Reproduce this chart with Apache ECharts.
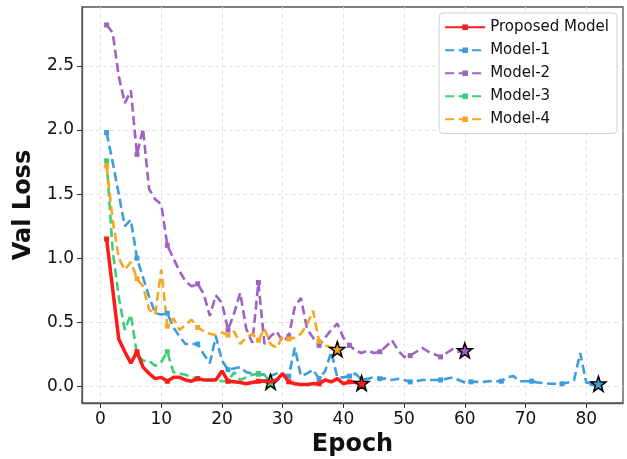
<!DOCTYPE html>
<html>
<head>
<meta charset="utf-8">
<script src="https://cdn.jsdelivr.net/npm/echarts@6/dist/echarts.min.js"></script>
<style>
  html, body { margin: 0; padding: 0; background: #fff; }
  #chart { width: 627px; height: 459px; }
</style>
</head>
<body>
<div id="chart"></div>
<script>
// validation loss per epoch (epoch = index + 1)
var proposedLoss = [1.15, 0.76, 0.37, 0.27, 0.18, 0.27, 0.15, 0.10, 0.06, 0.07,
  0.04, 0.07, 0.07, 0.05, 0.04, 0.06, 0.05, 0.05, 0.05, 0.12,
  0.04, 0.035, 0.03, 0.02, 0.03, 0.04, 0.04, 0.035, 0.05, 0.10,
  0.035, 0.02, 0.015, 0.015, 0.02, 0.02, 0.05, 0.035, 0.06, 0.02,
  0.035, 0.03, 0.025];
var model1Loss = [1.98, 1.75, 1.50, 1.25, 1.30, 1.00, 0.85, 0.70, 0.57, 0.56,
  0.57, 0.46, 0.39, 0.33, 0.33, 0.33, 0.25, 0.18, 0.39, 0.20,
  0.13, 0.14, 0.15, 0.11, 0.10, 0.095, 0.09, 0.08, 0.10, 0.09,
  0.08, 0.30, 0.08, 0.10, 0.13, 0.06, 0.12, 0.27, 0.07, 0.07,
  0.08, 0.10, 0.05, 0.06, 0.07, 0.06, 0.06, 0.05, 0.06, 0.05,
  0.035, 0.04, 0.05, 0.05, 0.05, 0.05, 0.06, 0.07, 0.05, 0.03,
  0.035, 0.035, 0.035, 0.04, 0.04, 0.04, 0.07, 0.08, 0.04, 0.04,
  0.04, 0.03, 0.025, 0.02, 0.02, 0.02, 0.03, 0.05, 0.26, 0.03,
  0.02, 0.02];
var model2Loss = [2.82, 2.76, 2.42, 2.21, 2.31, 1.81, 2.01, 1.54, 1.46, 1.42,
  1.10, 1.00, 0.90, 0.82, 0.78, 0.80, 0.72, 0.55, 0.71, 0.65,
  0.44, 0.57, 0.73, 0.45, 0.34, 0.81, 0.33, 0.39, 0.43, 0.35,
  0.39, 0.62, 0.69, 0.45, 0.38, 0.32, 0.38, 0.44, 0.49, 0.38,
  0.32, 0.28, 0.26, 0.28, 0.26, 0.27, 0.31, 0.36, 0.28, 0.23,
  0.24, 0.27, 0.30, 0.27, 0.25, 0.23, 0.26, 0.29, 0.27, 0.28];
var model3Loss = [1.76, 1.06, 0.70, 0.44, 0.56, 0.25, 0.20, 0.20, 0.16, 0.19,
  0.27, 0.11, 0.10, 0.09, 0.07, 0.06, 0.05, 0.05, 0.05, 0.04,
  0.04, 0.11, 0.05, 0.07, 0.09, 0.10, 0.09, 0.035];
var model4Loss = [1.72, 1.30, 1.00, 0.91, 0.97, 0.84, 0.78, 0.60, 0.56, 0.91,
  0.47, 0.53, 0.44, 0.48, 0.52, 0.46, 0.43, 0.41, 0.40, 0.42,
  0.40, 0.43, 0.33, 0.38, 0.41, 0.36, 0.45, 0.33, 0.30, 0.39,
  0.37, 0.38, 0.41, 0.48, 0.59, 0.35, 0.32, 0.30, 0.29];

var seriesNames = ['Proposed Model', 'Model-1', 'Model-2', 'Model-3', 'Model-4'];
var seriesColors = ['#ff1a1a', '#3b9ddd', '#a062c0', '#3ccf77', '#f5a623'];
var xTicks = [0, 10, 20, 30, 40, 50, 60, 70, 80];
var yTicks = [0, 0.5, 1.0, 1.5, 2.0, 2.5];

var starPath = 'path://M0,-10L2.35,-3.24L9.51,-3.09L3.8,1.24L5.88,8.09L0,4L-5.88,8.09L-3.8,1.24L-9.51,-3.09L-2.35,-3.24Z';
var font = 'DejaVu Sans';

function makeSeries(name, vals, color, solid) {
  var data = vals.map(function (v, i) {
    var last = i === vals.length - 1;
    var item = { value: [i + 1, v] };
    if (last) {
      item.symbol = starPath;
      item.symbolSize = 15;
      item.itemStyle = { color: color, borderColor: '#000', borderWidth: 1.5, opacity: 1 };
    } else if (i % 5 !== 0) {
      item.symbol = 'none';
    }
    return item;
  });
  return {
    name: name,
    type: 'line',
    data: data,
    symbol: 'rect',
    symbolSize: 5,
    z: solid ? 5 : 3,
    itemStyle: { color: color },
    lineStyle: {
      color: color,
      width: solid ? 3.5 : 2.6,
      type: solid ? 'solid' : [9, 4.5]
    },
    emphasis: { disabled: true },
    animation: false
  };
}

var allLoss = [proposedLoss, model1Loss, model2Loss, model3Loss, model4Loss];
var series = allLoss.map(function (vals, k) {
  return makeSeries(seriesNames[k], vals, seriesColors[k], k === 0);
});

var myChart = echarts.init(document.getElementById('chart'));
var option = {
  backgroundColor: '#fff',
  animation: false,
  grid: {
    left: 82, right: 4, top: 7, bottom: 56,
    outerBoundsMode: 'none',
    containLabel: false,
    show: true, borderColor: '#555', borderWidth: 1.3
  },
  legend: {
    data: seriesNames,
    orient: 'vertical',
    right: 10,
    top: 13,
    padding: [6, 8, 6, 5],
    itemWidth: 40,
    itemHeight: 7,
    itemGap: 6.5,
    backgroundColor: '#fff',
    borderColor: '#d0d0d0',
    borderWidth: 1,
    borderRadius: 4,
    textStyle: { fontFamily: font, fontSize: 15, color: '#111', lineHeight: 16.5 }
  },
  xAxis: {
    type: 'value',
    min: -3.05,
    max: 86.05,
    name: 'Epoch',
    nameLocation: 'middle',
    nameGap: 30,
    nameTextStyle: { fontFamily: font, fontSize: 24, fontWeight: 'bold', color: '#111' },
    axisLine: { show: true, onZero: false, lineStyle: { color: '#555', width: 1.3 } },
    axisTick: { show: true, length: 5, customValues: xTicks, lineStyle: { color: '#333' } },
    axisLabel: { customValues: xTicks, fontFamily: font, fontSize: 17, color: '#111', margin: 8 },
    splitLine: { show: true, lineStyle: { color: '#e3e3e3', type: [4, 3], width: 1 } }
  },
  yAxis: {
    type: 'value',
    min: -0.13,
    max: 2.96,
    name: 'Val Loss',
    nameLocation: 'middle',
    nameGap: 43,
    nameRotate: 90,
    nameTextStyle: { fontFamily: font, fontSize: 24, fontWeight: 'bold', color: '#111' },
    axisLine: { show: true, onZero: false, lineStyle: { color: '#555', width: 1.3 } },
    axisTick: { show: true, length: 5, customValues: yTicks, lineStyle: { color: '#333' } },
    axisLabel: {
      customValues: yTicks, fontFamily: font, fontSize: 17, color: '#111', margin: 8,
      formatter: function (v) { return v.toFixed(1); }
    },
    splitLine: { show: true, lineStyle: { color: '#e3e3e3', type: [4, 3], width: 1 } }
  },
  series: series
};
myChart.setOption(option);
</script>
</body>
</html>
